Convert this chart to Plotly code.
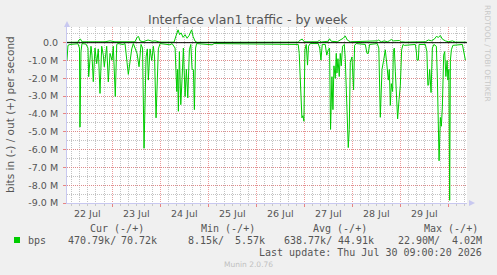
import plotly.graph_objects as go
from datetime import datetime, timedelta

# ---------------- data ----------------
START = datetime(2026, 7, 22)  # hours below are counted from 22 Jul 00:00

in_hours = [1.5, 2, 3, 5, 7, 7.75, 8, 8.5, 9, 11, 12, 12.35, 13, 13.5, 14, 14.65, 15.5, 16.35, 17.15, 18,
            18.85, 19.65, 20.15, 21.35, 22.15, 23, 24, 24.65, 25.65, 26.35, 27, 29.5, 30.5, 31, 31.5, 32.15,
            33, 33.85, 34.65, 35.5, 36.5, 37.5, 38.5, 39.25, 40, 41, 41.65, 42.15, 43, 43.85, 44.65, 45.25,
            46, 47.15, 48, 53, 54, 55.5, 56.35, 56.75, 57.15, 57.65, 58.35, 59, 59.65, 60.5, 61.15, 61.85,
            62.65, 63.35, 64, 64.65, 65.15, 65.75, 66.25, 74, 75, 100, 117, 117.5, 118, 118.85, 119.35,
            119.85, 120.35, 121, 121.65, 122.15, 123, 127, 127.75, 128.35, 129, 130.5, 131.25, 132, 132.65,
            133.15, 133.85, 134.35, 134.85, 135.5, 136, 136.35, 136.85, 137.5, 138, 138.5, 139.15, 140,
            140.5, 141.35, 142, 142.5, 143, 143.85, 144.65, 145.15, 146, 150.5, 151.35, 152, 152.65, 156.5,
            157.25, 158, 158.85, 159.65, 160.5, 161.25, 162, 162.5, 163, 163.5, 164.15, 164.5, 165, 165.5,
            166.15, 166.65, 167.35, 168, 168.65, 169.35, 170, 175.5, 176, 176.35, 177, 177.35, 180.5,
            181.25, 181.75, 182.15, 182.65, 183.35, 184, 184.75, 186, 186.5, 187.35, 188, 188.5, 189,
            189.65, 190.15, 190.75, 191.35, 191.75, 192.25, 192.65, 193, 193.5, 194.25, 199, 200.5]
in_mbps = [-1.0, -0.15, -0.1, -0.08, -0.06, -0.3, -4.74, -0.5, -0.05, -0.08, -0.3, -1.91, -0.5, -0.2, -0.7,
           -2.19, -0.3, -1.18, -0.35, -2.85, -0.2, -0.7, -1.35, -0.2, -2.2, -0.6, -0.98, -0.2, -3.02, -0.1,
           -0.05, -0.1, -0.05, -0.8, -1.1, -1.78, -0.9, -0.35, -0.05, -0.35, -0.6, -1.35, -0.1, -0.3, -5.93,
           -0.8, -0.35, -2.1, -0.35, -1.0, -0.2, -0.8, -4.22, -0.35, -0.05, -0.12, -0.05, -0.3, -2.74, -1.5,
           -3.85, -0.5, -3.48, -2.0, -0.3, -3.02, -1.5, -3.1, -0.4, -0.1, -1.5, -1.52, -3.76, -0.3, -0.05,
           -0.12, -0.05, -0.08, -0.1, -0.6, -2.0, -4.22, -4.1, -4.41, -0.4, -0.1, -1.26, -0.2, -0.05, -0.05,
           -0.3, -0.98, -0.1, -0.1, -0.7, -0.4, -0.3, -4.87, -1.91, -3.76, -1.3, -2.0, -0.6, -1.7, -0.9,
           -1.9, -0.6, -1.3, -0.2, -0.1, -0.9, -3.3, -5.89, -4.87, -1.1, -0.8, -2.65, -0.15, -0.05, -0.1,
           -0.6, -0.6, -0.1, -0.05, -0.3, -4.19, -1.5, -1.0, -0.4, -1.2, -2.1, -1.5, -3.52, -2.3, -2.74,
           -0.5, -0.3, -1.6, -3.5, -4.28, -3.2, -2.4, -0.4, -0.1, -0.15, -0.1, -0.5, -0.98, -0.98, -0.1,
           -0.1, -0.5, -2.4, -2.37, -1.5, -2.8, -0.3, -0.1, -0.2, -2.0, -6.63, -4.2, -4.69, -3.6, -0.7,
           -0.5, -1.9, -1.0, -2.1, -1.5, -8.85, -1.0, -0.4, -0.15, -0.1, -0.98]

out_hours = [1.5, 7, 7.5, 8.25, 9, 15.5, 17, 20.5, 23, 25.5, 35.5, 36.5, 37.25, 38, 39.5, 42, 44, 45.5, 48,
             55, 56, 57, 57.75, 58.5, 59.5, 60.5, 61.5, 62.5, 63.75, 64.5, 65.5, 66.5, 117, 118, 119, 120,
             126.5, 127.5, 128.5, 132, 132.65, 133.5, 136.5, 139.5, 140.5, 141.5, 143, 156.5, 157, 158.5,
             160, 161.5, 162.5, 163.5, 164.5, 167.5, 168.5, 170.5, 180.5, 182, 183.5, 185, 186, 187, 188,
             189, 190.5, 192, 194, 195.5, 201]
out_mbps = [0.02, 0.03, 0.15, 0.2, 0.05, 0.05, 0.08, 0.05, 0.1, 0.05, 0.05, 0.3, 0.35, 0.1, 0.05, 0.15,
            0.08, 0.1, 0.03, 0.03, 0.4, 0.72, 0.45, 0.55, 0.3, 0.45, 0.25, 0.4, 0.72, 0.35, 0.08, 0.02,
            0.03, 0.15, 0.2, 0.05, 0.05, 0.12, 0.04, 0.08, 0.22, 0.08, 0.05, 0.25, 0.38, 0.15, 0.05, 0.1,
            0.15, 0.05, 0.1, 0.05, 0.1, 0.18, 0.1, 0.12, 0.05, 0.03, 0.05, 0.15, 0.1, 0.2, 0.35, 0.3, 0.4,
            0.2, 0.1, 0.05, 0.1, 0.03, 0.03]

day_labels = ["22 Jul", "23 Jul", "24 Jul", "25 Jul", "26 Jul", "27 Jul", "28 Jul", "29 Jul"]
ytick_vals = [0, -1, -2, -3, -4, -5, -6, -7, -8, -9]
ytick_text = ["0.0", "-1.0 M", "-2.0 M", "-3.0 M", "-4.0 M", "-5.0 M", "-6.0 M", "-7.0 M", "-8.0 M", "-9.0 M"]

legend_headers = ["Cur (-/+)", "Min (-/+)", "Avg (-/+)", "Max (-/+)"]
legend_in = ["470.79k/", "8.15k/", "638.77k/", "22.90M/"]
legend_out = ["70.72k", "5.57k", "44.91k", "4.02M"]
last_update = "Last update: Thu Jul 30 09:00:20 2026"

# ---------------- layout geometry ----------------
W, H = 497, 275
L, R, T, B = 67, 467, 27, 203
def px(x):
    return (x - L) / (R - L)
def py(y):
    return (B - y) / (B - T)

GREEN = "#00CC00"
TXT = "#555555"
SANS = "DejaVu Sans"
MONO = "DejaVu Sans Mono"

fig = go.Figure()
fig.add_trace(go.Scatter(x=[START + timedelta(hours=h) for h in in_hours], y=in_mbps,
                         mode="lines", line=dict(color=GREEN, width=1), hoverinfo="skip"))
fig.add_trace(go.Scatter(x=[START + timedelta(hours=h) for h in out_hours], y=out_mbps,
                         mode="lines", line=dict(color=GREEN, width=1), hoverinfo="skip"))

x0 = START + timedelta(hours=1.52)
x1 = START + timedelta(hours=201.3)

fig.update_layout(
    width=W, height=H, showlegend=False,
    margin=dict(l=L, r=W - R, t=T, b=H - B),
    paper_bgcolor="#F0F0F0", plot_bgcolor="#FFFFFF",
    font=dict(family=SANS, size=10, color=TXT),
    xaxis=dict(type="date", range=[x0, x1], tickmode="linear", tick0="2026-07-22", dtick=86400000,
               showticklabels=False, showgrid=True, gridcolor="rgba(230,120,120,0.75)", griddash="1px,1px",
               gridwidth=1, ticks="outside", ticklen=3, tickcolor="rgba(230,120,120,0.9)",
               showline=True, linecolor="#C8C8F0", linewidth=1, zeroline=False,
               minor=dict(dtick=4 * 3600000, tick0="2026-07-22", showgrid=True,
                          gridcolor="rgba(185,185,185,0.85)", griddash="1px,1px", gridwidth=1,
                          ticks="outside", ticklen=2, tickcolor="rgba(190,190,190,0.8)")),
    yaxis=dict(range=[-9, 0.88], tickmode="array", tickvals=ytick_vals, ticktext=ytick_text,
               tickfont=dict(family=SANS, size=9.5, color=TXT), showgrid=True,
               gridcolor="rgba(230,120,120,0.75)", griddash="1px,1px", gridwidth=1,
               ticks="outside", ticklen=3, tickcolor="rgba(230,120,120,0.9)", ticklabelstandoff=3,
               showline=True, linecolor="#C8C8F0", linewidth=1, zeroline=False,
               minor=dict(dtick=0.5, tick0=0, showgrid=True, gridcolor="rgba(185,185,185,0.85)",
                          griddash="1px,1px", gridwidth=1)),
)

shapes = [
    dict(type="line", xref="paper", yref="y", x0=0, x1=1, y0=0, y1=0,
         line=dict(color="#000000", width=1), layer="above"),
    # axis arrows
    dict(type="path", xref="paper", yref="paper",
         path=f"M {px(64)} {py(27)} L {px(67)} {py(21)} L {px(70)} {py(27)} Z",
         fillcolor="#C8C8F0", line=dict(width=0)),
    dict(type="path", xref="paper", yref="paper",
         path=f"M {px(469)} {py(200)} L {px(475)} {py(203)} L {px(469)} {py(206)} Z",
         fillcolor="#C8C8F0", line=dict(width=0)),
    # legend colour box
    dict(type="rect", xref="paper", yref="paper", x0=px(14), x1=px(20), y0=py(243), y1=py(237),
         fillcolor=GREEN, line=dict(width=0)),
]
fig.update_layout(shapes=shapes)

ann = []
ann.append(dict(text="Interface vlan1 traffic - by week", xref="paper", yref="paper", x=px(248), y=py(19),
                xanchor="center", yanchor="middle", showarrow=False, font=dict(family=SANS, size=12.5, color=TXT)))
ann.append(dict(text="bits in (-) / out (+) per second", xref="paper", yref="paper", x=px(10), y=py(115),
                xanchor="center", yanchor="middle", textangle=-90, showarrow=False,
                font=dict(family=SANS, size=10.5, color=TXT)))
ann.append(dict(text="RRDTOOL / TOBI OETIKER", xref="paper", yref="paper", x=px(488), y=py(53),
                xanchor="center", yanchor="middle", textangle=90, showarrow=False,
                font=dict(family=SANS, size=7.5, color="#C8C8C8")))
for i, lab in enumerate(day_labels):
    ann.append(dict(text=lab, xref="x", yref="paper", x=START + timedelta(days=i, hours=12), y=py(213),
                    xanchor="center", yanchor="middle", showarrow=False,
                    font=dict(family=SANS, size=9.5, color=TXT)))
hdr_left = [89, 200, 312, 423]
for h, xl in zip(legend_headers, hdr_left):
    ann.append(dict(text=h, xref="paper", yref="paper", x=px(xl), y=py(228), xanchor="left",
                    yanchor="middle", showarrow=False, font=dict(family=MONO, size=10, color=TXT)))
ann.append(dict(text="bps", xref="paper", yref="paper", x=px(27), y=py(240), xanchor="left",
                yanchor="middle", showarrow=False, font=dict(family=MONO, size=10, color=TXT)))
in_left = [67, 187, 283, 397]
out_right = [158, 266, 375, 483]
for a, xl in zip(legend_in, in_left):
    ann.append(dict(text=a, xref="paper", yref="paper", x=px(xl), y=py(240), xanchor="left",
                    yanchor="middle", showarrow=False, font=dict(family=MONO, size=10, color=TXT)))
for b, xr in zip(legend_out, out_right):
    ann.append(dict(text=b, xref="paper", yref="paper", x=px(xr), y=py(240), xanchor="right",
                    yanchor="middle", showarrow=False, font=dict(family=MONO, size=10, color=TXT)))
ann.append(dict(text=last_update, xref="paper", yref="paper", x=px(483), y=py(252), xanchor="right",
                yanchor="middle", showarrow=False, font=dict(family=MONO, size=10, color=TXT)))
ann.append(dict(text="Munin 2.0.76", xref="paper", yref="paper", x=px(248), y=py(264), xanchor="center",
                yanchor="middle", showarrow=False, font=dict(family=SANS, size=7.5, color="#C0C0C0")))
for a in ann:
    a["borderpad"] = 0
fig.update_layout(annotations=ann)

fig.write_html("out.html")
